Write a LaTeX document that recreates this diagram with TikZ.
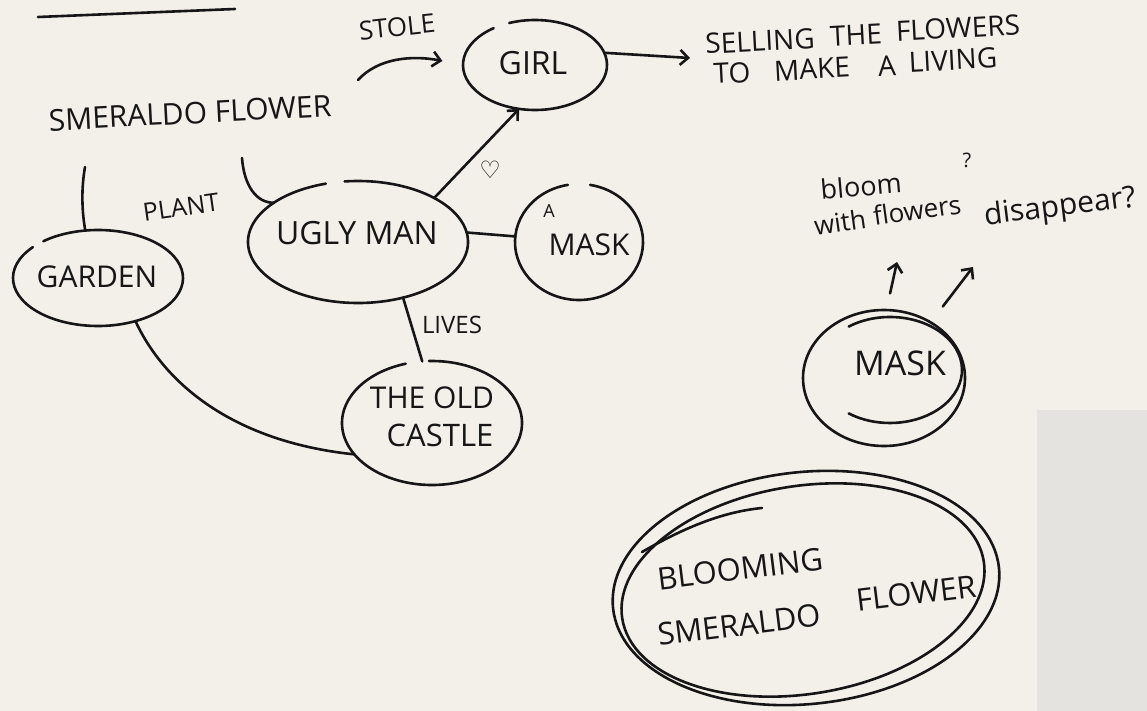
\documentclass[tikz,border=0pt]{standalone}
\usepackage{fontspec}
\setmainfont{Open Sans}
\newfontfamily\symfont{DejaVu Sans}
\usetikzlibrary{arrows.meta,shapes.geometric}
\definecolor{paper}{RGB}{243,239,233}
\definecolor{patch}{RGB}{229,227,223}
\definecolor{ink}{RGB}{22,22,22}
\newcommand{\hw}[1]{\fontsize{#1pt}{1.15\dimexpr#1pt\relax}\selectfont}
\begin{document}
\begin{tikzpicture}[x=1pt,y=1pt,
  hand/.style={draw=ink, line width=2.6pt, line cap=round, line join=round},
  arr/.style={hand, -{Straight Barb[length=8pt,width=15pt]}},
  blob/.style={ellipse, inner sep=0pt, outer sep=0pt},
  lbl/.style={inner sep=0pt, text=ink},
  sellw/.style={lbl, font=\hw{28}, rotate=3},
  bigw/.style={lbl, font=\hw{31}, rotate=7}]
\useasboundingbox (0,0) rectangle (1147,-711);
\fill[paper] (0,0) rectangle (1147,-711);
\fill[patch] (1037,-410) rectangle (1147,-711);

% top stroke
\draw[hand] (38,-17) -- (235,-9);

% ellipse nodes (outlines drawn as hand strokes below)
\node[blob, minimum width=144pt, minimum height=90pt] (girl) at (535,-65) {};
\node[blob, minimum width=220pt, minimum height=122pt] (ugly) at (358,-242) {};
\node[blob, minimum width=128pt, minimum height=116pt] (amask) at (579,-242) {};
\node[blob, minimum width=170pt, minimum height=96pt] (garden) at (98,-278) {};
\node[blob, minimum width=180pt, minimum height=124pt] (castle) at (432,-423) {};
\node[blob, minimum width=162pt, minimum height=136pt] (mask) at (884,-378) {};
\node[blob, minimum width=388pt, minimum height=232pt] (bloomer) at (806,-588) {};

\draw[hand] (girl.center) ++(125:72 and 45) arc[start angle=125, end angle=471, x radius=72, y radius=45];
\draw[hand] (ugly.center) ++(107:110 and 61) arc[start angle=107, end angle=457, x radius=110, y radius=61];
\draw[hand] (amask.center) ++(100:64 and 58) arc[start angle=100, end angle=440, x radius=64, y radius=58];
\draw[hand] (garden.center) ++(140:85 and 48) arc[start angle=140, end angle=490, x radius=85, y radius=48];
\draw[hand] (castle.center) ++(107:90 and 62) arc[start angle=107, end angle=452, x radius=90, y radius=62];
\draw[hand] (mask.center) ellipse[x radius=81, y radius=68];
\draw[hand] (890,-370) ++(125:72 and 53) arc[start angle=125, end angle=-125, x radius=72, y radius=53];
\draw[hand, rotate around={6:(806,-588)}] (806,-588) ellipse[x radius=194, y radius=116];
\draw[hand, rotate around={9:(803,-590)}] (803,-590) ellipse[x radius=183, y radius=104];
\draw[hand] (642,-552) .. controls (680,-530) and (720,-512) .. (762,-508);

% texts
\node[lbl, font=\hw{26}, rotate=6] (stole) at (397,-27) {STOLE};
\node[lbl, font=\hw{32}] (girlt) at (533,-63) {GIRL};
\node[sellw] (sell1) at (760,-41) {SELLING};
\node[sellw] (sell2) at (856,-35) {THE};
\node[sellw] (sell3) at (958,-28) {FLOWERS};
\node[sellw] (sell4) at (732,-73) {TO};
\node[sellw] (sell5) at (812,-69) {MAKE};
\node[sellw] (sell6) at (887,-66) {A};
\node[sellw] (sell7) at (953,-60) {LIVING};
\node[lbl, font=\hw{30}, rotate=3] (smer) at (190,-113) {SMERALDO FLOWER};
\node[lbl, font=\hw{25}, rotate=8] (plant) at (181,-207) {PLANT};
\node[lbl, font=\hw{32}] (uglyt) at (357,-233) {UGLY MAN};
\node[lbl, font=\symfont\bfseries\fontsize{24pt}{24pt}\selectfont] (heart) at (490,-170) {♡};
\node[lbl, font=\hw{18}] (at) at (549,-211) {A};
\node[lbl, font=\hw{30}] (maskt) at (589,-245) {MASK};
\node[lbl, font=\hw{30}] (gardent) at (97,-277) {GARDEN};
\node[lbl, font=\hw{24}] (lives) at (452,-325) {LIVES};
\node[lbl, font=\hw{30}] (oldt) at (432,-398) {THE OLD};
\node[lbl, font=\hw{31}] (castlet) at (440,-435) {CASTLE};
\node[lbl, font=\hw{27}, rotate=5] (bloomt) at (861,-186) {bloom};
\node[lbl, font=\hw{26}, rotate=8] (witht) at (840,-222) {with};
\node[lbl, font=\hw{26}, rotate=8] (flowt) at (917,-210) {flowers};
\node[lbl, font=\hw{20}] (q1) at (967,-160) {?};
\node[lbl, font=\hw{30}, rotate=7] (disapp) at (1060,-208) {disappear?};
\node[lbl, font=\hw{34}] (maskbig) at (900,-363) {MASK};
\node[bigw] (bw1) at (740,-569) {BLOOMING};
\node[bigw] (bw2) at (739,-625) {SMERALDO};
\node[bigw] (bw3) at (916,-593) {FLOWER};

% connectors
\coordinate (stoleS) at (358,-80);
\draw[arr, shorten >=21pt] (stoleS) .. controls (378,-58) and (412,-55) .. (girl.west);
\coordinate (sellTip) at (690,-58);
\draw[arr] (girl.10) -- (sellTip);
\draw[arr] (ugly.30) -- (girl.-110);
\draw[hand] (ugly.5) -- (amask.175);
\coordinate (smerA) at (85,-167);
\draw[hand] (smerA) .. controls (81,-190) and (82,-212) .. (garden.105);
\coordinate (smerB) at (242,-158);
\draw[hand] (smerB) .. controls (244,-185) and (256,-203) .. (ugly.155);
\draw[hand] (ugly.-51) -- (castle.99);
\draw[hand] (garden.-49) .. controls (165,-385) and (235,-442) .. (castle.-158);
\coordinate (tipA) at (897,-262);
\coordinate (tipB) at (973,-267);
\draw[arr, shorten <=17pt] (mask.88) -- (tipA);
\draw[arr, shorten <=20pt] (mask.50) -- (tipB);
\end{tikzpicture}
\end{document}
